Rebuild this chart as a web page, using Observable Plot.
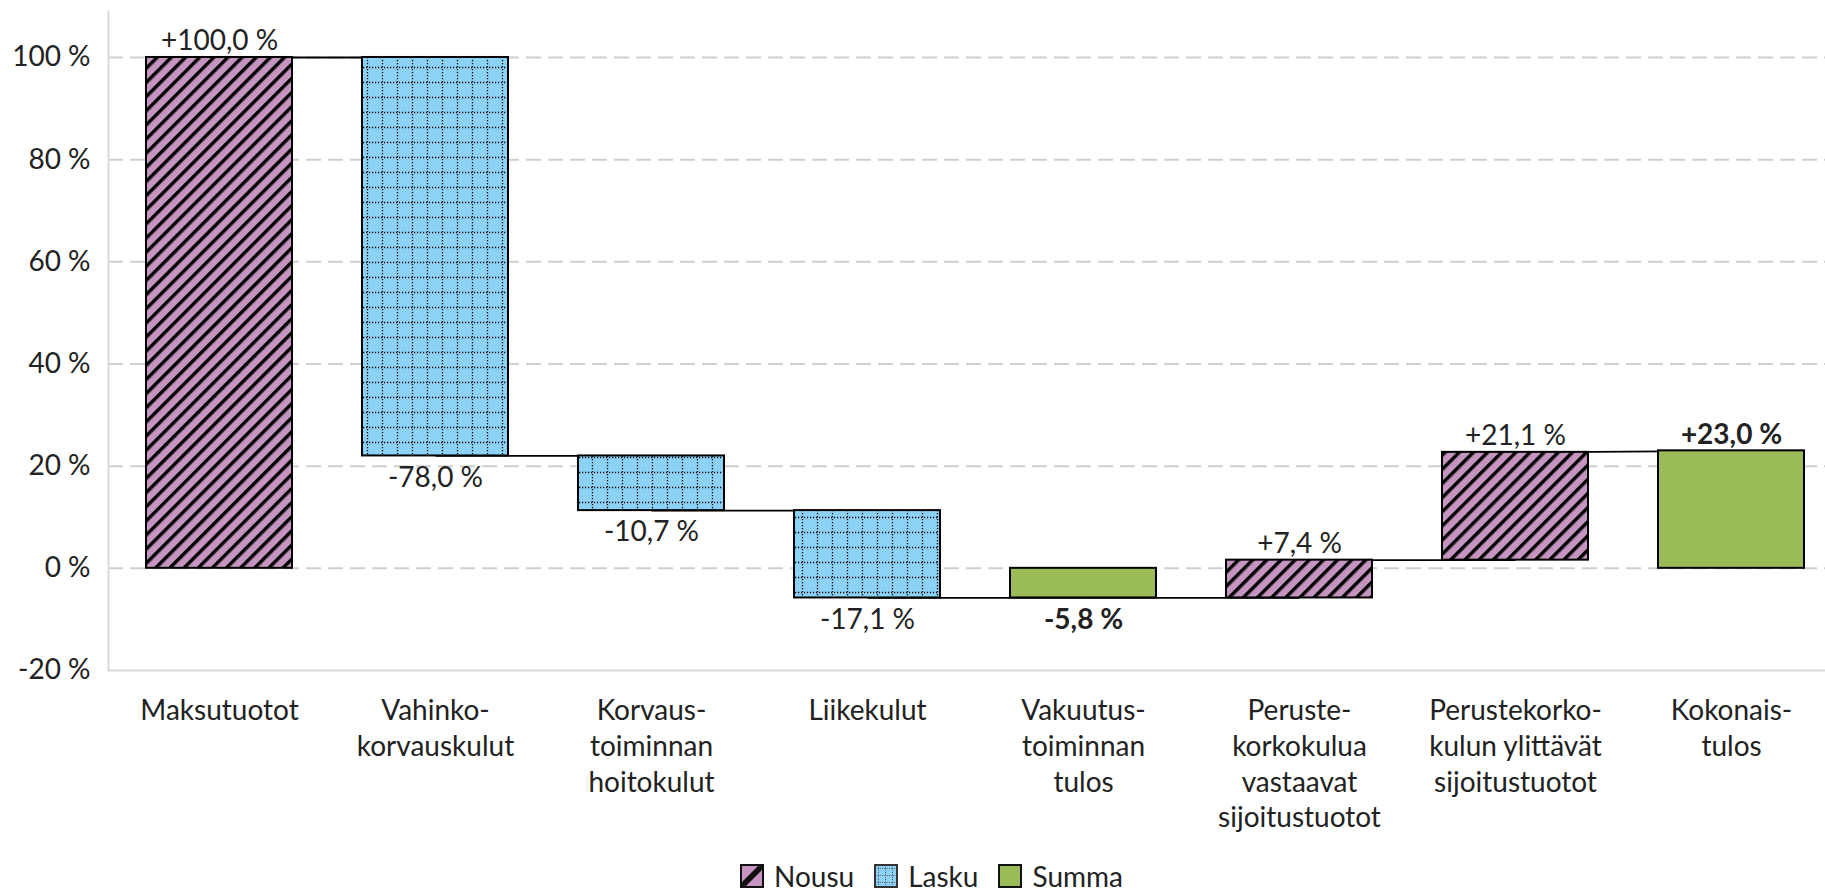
<!DOCTYPE html>
<html><head><meta charset="utf-8">
<script src="https://cdn.jsdelivr.net/npm/d3@7"></script>
<script src="https://cdn.jsdelivr.net/npm/@observablehq/plot@0.6"></script>
<style>
html,body{margin:0;padding:0;background:#fff;}
body{width:1825px;height:889px;overflow:hidden;font-family:"Lato",sans-serif;color:#222;}
#legend{display:flex;justify-content:center;align-items:center;height:39px;margin-top:6px;padding-left:38px;font-size:28px;}
#legend .item{display:flex;align-items:center;margin:0 10px;}
#legend svg{margin-right:10px;}
</style></head>
<body>
<svg width="0" height="0" style="position:absolute">
<defs>
<pattern id="hatch" patternUnits="userSpaceOnUse" width="10" height="10" patternTransform="rotate(45)">
<rect width="10" height="10" fill="#c594c0"/><rect width="3.4" height="10" fill="#000"/>
</pattern>
<pattern id="dots" patternUnits="userSpaceOnUse" width="15" height="15">
<rect width="15" height="15" fill="#8cd2f6"/>
<line x1="0" y1="7.5" x2="15" y2="7.5" stroke="#000" stroke-width="1.3" stroke-dasharray="1.2 1.8"/>
<line x1="7.5" y1="0" x2="7.5" y2="15" stroke="#000" stroke-width="1.3" stroke-dasharray="1.2 1.8"/>
</pattern>
<pattern id="dotsSmall" patternUnits="userSpaceOnUse" width="7" height="7" x="1" y="1">
<rect width="7" height="7" fill="#8cd2f6"/>
<line x1="0" y1="3.5" x2="7" y2="3.5" stroke="#555" stroke-width="1" stroke-dasharray="1 1.33"/>
<line x1="3.5" y1="0" x2="3.5" y2="7" stroke="#555" stroke-width="1" stroke-dasharray="1 1.33"/>
</pattern>
</defs></svg>
<div id="chart"></div>
<div id="legend"></div>
<script>
const categories = ["Maksutuotot","Vahinkokorvauskulut","Korvaustoiminnan hoitokulut","Liikekulut","Vakuutustoiminnan tulos","Perustekorkokulua vastaavat sijoitustuotot","Perustekorkokulun ylittävät sijoitustuotot","Kokonaistulos"];
const tickLabels = ["Maksutuotot","Vahinko-\nkorvauskulut","Korvaus-\ntoiminnan\nhoitokulut","Liikekulut","Vakuutus-\ntoiminnan\ntulos","Peruste-\nkorkokulua\nvastaavat\nsijoitustuotot","Perustekorko-\nkulun ylittävät\nsijoitustuotot","Kokonais-\ntulos"];
const values = [100.0, -78.0, -10.7, -17.1, -5.8, 7.4, 21.1, 23.0];
const kinds = ["Nousu","Lasku","Lasku","Lasku","Summa","Nousu","Nousu","Summa"];
const valueLabels = ["+100,0 %","-78,0 %","-10,7 %","-17,1 %","-5,8 %","+7,4 %","+21,1 %","+23,0 %"];
const yTicks = [-20, 0, 20, 40, 60, 80, 100];
const gridTicks = [0, 20, 40, 60, 80, 100];
const legendKinds = ["Nousu","Lasku","Summa"];
const fills = {Nousu: "url(#hatch)", Lasku: "url(#dots)", Summa: "#9bbb59"};

let running = 0;
const rows = categories.map((c, i) => {
  let start, end;
  if (kinds[i] === "Summa") { start = 0; end = values[i]; running = values[i]; }
  else { start = running; end = running + values[i]; running = end; }
  return {category: c, kind: kinds[i], value: values[i], label: valueLabels[i], start, end, level: running,
          top: Math.max(start, end), bottom: Math.min(start, end)};
});
const links = rows.slice(0, -1).map((r, i) => {
  const n = rows[i + 1];
  return {x1: r.category, y1: r.level, x2: n.category, y2: n.kind === "Summa" ? n.end : n.start};
});

const chart = Plot.plot({
  width: 1825, height: 850,
  marginLeft: 108, marginRight: -16, marginTop: 11, marginBottom: 180,
  style: {fontFamily: '"Lato", sans-serif', fontSize: "28px", color: "#222", background: "white", overflow: "visible"},
  x: {domain: categories, paddingInner: 0.326, paddingOuter: 0.163, label: null},
  y: {domain: [-20, 109], label: null},
  color: {type: "identity"},
  marks: [
    Plot.ruleY(gridTicks, {stroke: "#d0d0d0", strokeWidth: 2, strokeDasharray: "15,7"}),
    Plot.ruleY([-20], {stroke: "#d9d9d9", strokeWidth: 2}),
    Plot.frame({anchor: "left", stroke: "#d9d9d9", strokeWidth: 2}),
    Plot.axisY({ticks: yTicks, tickSize: 0, tickPadding: 18, tickFormat: d => `${d} %`, label: null}),
    Plot.axisX({tickSize: 0, tickPadding: 24, lineHeight: 1.28, tickFormat: d => tickLabels[categories.indexOf(d)], label: null}),
    Plot.link(links, {x1: "x1", y1: "y1", x2: "x2", y2: "y2", stroke: "#000", strokeWidth: 1.8}),
    Plot.barY(rows, {x: "category", y1: "start", y2: "end", fill: d => fills[d.kind], stroke: "#000", strokeWidth: 2}),
    Plot.text(rows, {filter: d => d.value >= 0 && d.kind !== "Summa", x: "category", y: "top", text: "label", lineAnchor: "bottom", dy: -7}),
    Plot.text(rows, {filter: d => d.value >= 0 && d.kind === "Summa", x: "category", y: "top", text: "label", lineAnchor: "bottom", dy: -7, fontWeight: "bold"}),
    Plot.text(rows, {filter: d => d.value < 0 && d.kind !== "Summa", x: "category", y: "bottom", text: "label", lineAnchor: "top", dy: 11}),
    Plot.text(rows, {filter: d => d.value < 0 && d.kind === "Summa", x: "category", y: "bottom", text: "label", lineAnchor: "top", dy: 11, fontWeight: "bold"})
  ]
});
document.getElementById("chart").appendChild(chart);

const swatchSvg = {
  Nousu: '<svg width="24" height="24"><rect x="1" y="1" width="22" height="22" fill="#c594c0" stroke="#111" stroke-width="2"/><polygon points="2,18 18,2 22,2 22,6 6,22 2,22" fill="#111"/></svg>',
  Lasku: '<svg width="24" height="24"><rect x="1" y="1" width="22" height="22" fill="url(#dotsSmall)" stroke="#333" stroke-width="2"/></svg>',
  Summa: '<svg width="24" height="24"><rect x="1" y="1" width="22" height="22" fill="#9bbb59" stroke="#111" stroke-width="2"/></svg>'
};
const legend = document.getElementById("legend");
legendKinds.forEach(k => {
  const item = document.createElement("div");
  item.className = "item";
  item.innerHTML = swatchSvg[k] + "<span>" + k + "</span>";
  legend.appendChild(item);
});
</script>
</body></html>
